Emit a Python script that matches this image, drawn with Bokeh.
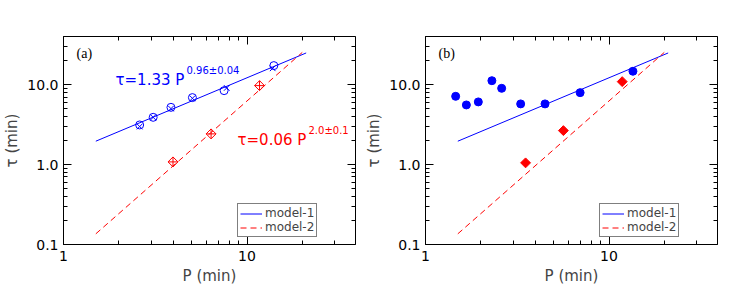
from bokeh.plotting import figure
from bokeh.models import (LogAxis, FixedTicker, CustomJSTickFormatter, Label,
                          Legend, LegendItem, Range1d)
from bokeh.layouts import row
from bokeh.embed import file_html
from bokeh.resources import INLINE
import numpy as np

# ---------------- data ----------------
# panel (a)
a_circle_P = [2.60, 3.08, 3.85, 5.04, 7.50, 14.0]
a_circle_tau = [3.13, 3.90, 5.20, 6.88, 8.41, 17.3]
a_x_P = [2.60, 3.08, 3.85, 5.04, 7.75, 13.8]
a_x_tau = [2.99, 3.90, 5.01, 6.74, 9.09, 16.0]
a_diam_P = [3.95, 6.37, 11.7]
a_diam_tau = [1.08, 2.42, 9.72]

# panel (b)
b_circle_P = [1.46, 1.67, 1.94, 2.30, 2.60, 3.30, 4.48, 6.96, 13.5]
b_circle_tau = [7.14, 5.57, 6.08, 11.2, 8.99, 5.74, 5.74, 7.94, 14.7]
b_diam_P = [3.51, 5.64, 11.8]
b_diam_tau = [1.05, 2.66, 10.9]

# model lines (end points of straight lines in log-log)
model1_P = [1.5, 21.0]
model1_tau = [1.96, 24.9]
model2_P = [1.5, 20.0]
model2_tau = [0.136, 25.3]

x_major = [1, 10, 100]
x_minor = [2, 3, 4, 5, 6, 7, 8, 9, 20, 30, 40, 50, 60, 70, 80, 90]
y_major = [0.1, 1, 10, 100]
y_minor = [0.2, 0.3, 0.4, 0.5, 0.6, 0.7, 0.8, 0.9,
           2, 3, 4, 5, 6, 7, 8, 9, 20, 30, 40, 50, 60, 70, 80, 90]

X_MIN, X_MAX = 1, 39
Y_MIN, Y_MAX = 0.1, 40

FONT = "DejaVu Sans"
BLUE = "#0000ff"
RED = "#ff0000"


def style_axis(ax):
    ax.major_tick_in = 8
    ax.major_tick_out = 0
    ax.minor_tick_in = 4
    ax.minor_tick_out = 0
    ax.major_tick_line_color = "black"
    ax.minor_tick_line_color = "black"
    ax.axis_line_color = "black"
    ax.major_label_text_font = FONT
    ax.major_label_text_font_size = "14px"
    ax.major_label_text_color = "black"


def make_panel(width, bl, br, tag):
    p = figure(width=width, height=289,
               x_axis_type="log", y_axis_type="log",
               x_range=Range1d(X_MIN, X_MAX), y_range=Range1d(Y_MIN, Y_MAX),
               output_backend="svg", toolbar_location=None,
               min_border_left=bl, min_border_right=br,
               min_border_top=36, min_border_bottom=45)
    p.grid.visible = False
    p.outline_line_color = "black"
    p.outline_line_width = 1
    p.background_fill_color = "white"
    p.border_fill_color = "white"

    xt = FixedTicker(ticks=x_major, minor_ticks=x_minor)
    yt = FixedTicker(ticks=y_major, minor_ticks=y_minor)
    xf = CustomJSTickFormatter(code="return tick.toFixed(0);")
    yf = CustomJSTickFormatter(code="return tick.toFixed(1);")
    blank = CustomJSTickFormatter(code="return '';")

    for ax in p.xaxis:
        style_axis(ax)
        ax.ticker = xt
        ax.formatter = xf
        ax.major_label_standoff = 6
        ax.axis_label = "P (min)"
        ax.axis_label_text_font = FONT
        ax.axis_label_text_font_size = "15px"
        ax.axis_label_text_font_style = "normal"
        ax.axis_label_standoff = 3
    for ax in p.yaxis:
        style_axis(ax)
        ax.ticker = yt
        ax.formatter = yf
        ax.major_label_standoff = 5
        ax.axis_label = "τ (min)"
        ax.axis_label_text_font = FONT
        ax.axis_label_text_font_size = "15px"
        ax.axis_label_text_font_style = "normal"
        ax.axis_label_standoff = 3

    top = LogAxis(ticker=xt, formatter=blank, fixed_location=Y_MAX)
    style_axis(top)
    p.add_layout(top, "above")
    right = LogAxis(ticker=yt, formatter=blank, fixed_location=X_MAX)
    style_axis(right)
    p.add_layout(right, "right")

    r1 = p.line(model1_P, model1_tau, line_color=BLUE, line_width=1)
    r2 = p.line(model2_P, model2_tau, line_color=RED, line_width=1,
                line_dash="6 4")

    legend = Legend(items=[LegendItem(label="model-1", renderers=[r1]),
                           LegendItem(label="model-2", renderers=[r2])],
                    location=(174, 7), padding=2, margin=0, spacing=0,
                    label_height=13, glyph_height=13, glyph_width=22,
                    label_standoff=3,
                    label_text_font=FONT, label_text_font_size="12px",
                    border_line_color="black", border_line_width=1,
                    background_fill_color="white", background_fill_alpha=1.0)
    p.add_layout(legend, "center")

    p.add_layout(Label(x=13, y=191, x_units="screen", y_units="screen",
                       text=tag, text_font="Liberation Serif",
                       text_font_size="14px", text_baseline="middle",
                       text_color="black"))
    return p


# ---------------- panel (a) ----------------
pa = make_panel(362, 63, 7, "(a)")
pa.scatter(a_circle_P, a_circle_tau, marker="circle", size=8,
           fill_color=None, line_color=BLUE, line_width=1)
pa.scatter(a_x_P, a_x_tau, marker="x", size=8,
           line_color=BLUE, line_width=1)
pa.scatter(a_diam_P, a_diam_tau, marker="square_x", size=7,
           angle=np.pi / 4, fill_color=None, line_color=RED, line_width=1)

pa.add_layout(Label(x=52, y=165, x_units="screen", y_units="screen",
                    text="τ=1.33 P", text_font=FONT, text_font_size="15px",
                    text_color=BLUE, text_baseline="alphabetic"))
pa.add_layout(Label(x=123, y=174, x_units="screen", y_units="screen",
                    text="0.96±0.04", text_font=FONT, text_font_size="10px",
                    text_color=BLUE, text_baseline="alphabetic"))
pa.add_layout(Label(x=174, y=105, x_units="screen", y_units="screen",
                    text="τ=0.06 P", text_font=FONT, text_font_size="15px",
                    text_color=RED, text_baseline="alphabetic"))
pa.add_layout(Label(x=245, y=114, x_units="screen", y_units="screen",
                    text="2.0±0.1", text_font=FONT, text_font_size="10px",
                    text_color=RED, text_baseline="alphabetic"))

# ---------------- panel (b) ----------------
pb = make_panel(378, 63, 23, "(b)")
pb.scatter(b_circle_P, b_circle_tau, marker="circle", size=8,
           fill_color=BLUE, line_color=BLUE)
pb.scatter(b_diam_P, b_diam_tau, marker="square", size=7,
           angle=np.pi / 4, fill_color=RED, line_color=RED)

layout = row(pa, pb, spacing=0)
open("out.html", "w").write(file_html(layout, INLINE))
